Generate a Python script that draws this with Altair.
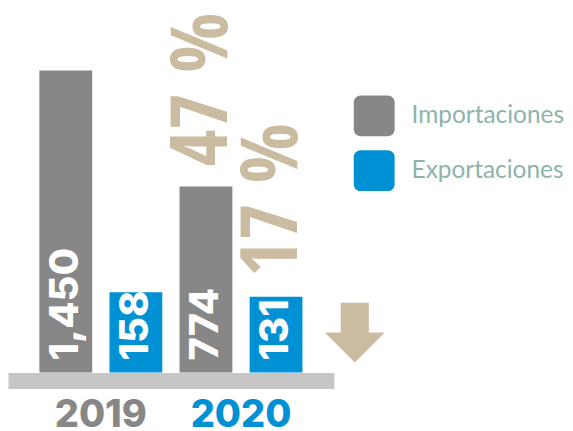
import altair as alt
import pandas as pd

years = ["2019", "2019", "2020", "2020"]
flows = ["Importaciones", "Exportaciones", "Importaciones", "Exportaciones"]
values = [1450, 158, 774, 131]
value_labels = ["1,450", "158", "774", "131"]
change_labels = ["", "", "47 %", "17 %"]

flow_order = ["Importaciones", "Exportaciones"]
flow_colors = ["#878787", "#0091D5"]
TAN = "#CBBBA0"
BASE = -310
TOP = 1810

df = pd.DataFrame({
    "year": years,
    "flow": flows,
    "value": values,
    "vlabel": value_labels,
    "change": change_labels,
})

ROUNDED = ("M-0.66,-1 L0.66,-1 A0.34,0.34 0 0 1 1,-0.66 L1,0.66 "
           "A0.34,0.34 0 0 1 0.66,1 L-0.66,1 A0.34,0.34 0 0 1 -1,0.66 "
           "L-1,-0.66 A0.34,0.34 0 0 1 -0.66,-1 Z")
ARROW = "M-0.47,-1 L0.47,-1 L0.47,0 L1,0 L0,1 L-1,0 L-0.47,0 Z"

x = alt.X(
    "year:N", title=None,
    scale=alt.Scale(paddingInner=0, paddingOuter=0.1623),
    axis=alt.Axis(
        labelAngle=0, ticks=False, tickSize=0, offset=8,
        domainColor="#C6C6C6", domainWidth=16,
        labelFont="Inter", labelFontWeight=800, labelFontSize=38,
        labelPadding=16,
        labelColor=alt.ExprRef("datum.value == '2020' ? '#0091D5' : '#878787'"),
    ),
)
xo = alt.XOffset("flow:N", sort=flow_order,
                 scale=alt.Scale(paddingInner=0.2464, paddingOuter=0.1232))
yscale = alt.Scale(domain=[BASE, TOP], zero=False, nice=False)

base = alt.Chart(df).transform_calculate(base=str(BASE)).encode(x=x, xOffset=xo)

bars = base.mark_bar().encode(
    y=alt.Y("value:Q", scale=yscale, axis=None),
    y2="base:Q",
    color=alt.Color(
        "flow:N",
        scale=alt.Scale(domain=flow_order, range=flow_colors),
        legend=alt.Legend(
            title=None, orient="none", legendX=347, legendY=87,
            symbolType=ROUNDED, symbolSize=1681, symbolStrokeWidth=0,
            symbolOpacity=1, labelFont="Lato", labelFontSize=24.5,
            labelColor="#8DB3AB", labelOffset=17, rowPadding=14, padding=0,
        ),
    ),
)

vtext = base.mark_text(
    angle=270, align="left", baseline="middle", dx=12, color="white",
    font="Inter", fontSize=40, fontWeight=800,
).encode(y=alt.Y("base:Q", scale=yscale), text="vlabel:N")

ptext = base.transform_filter("datum.change != ''").mark_text(
    angle=270, align="left", baseline="middle", dx=20, dy=-3, color=TAN,
    font="Open Sans Condensed, DejaVu Sans Condensed, Roboto", fontSize=80,
    fontWeight="bold",
).encode(y=alt.Y("value:Q", scale=yscale), text="change:N")

arrow = alt.Chart(pd.DataFrame({"k": [0]})).mark_point(
    shape=ARROW, filled=True, size=3600, color=TAN, opacity=1, strokeWidth=0,
).encode(x=alt.value(348), y=alt.value(325))

chart = alt.layer(bars, vtext, ptext, arrow).properties(
    width=327, height=365, padding=0
).configure_view(stroke=None)

chart.save("out.html", embed_options={"renderer": "svg", "actions": False})
